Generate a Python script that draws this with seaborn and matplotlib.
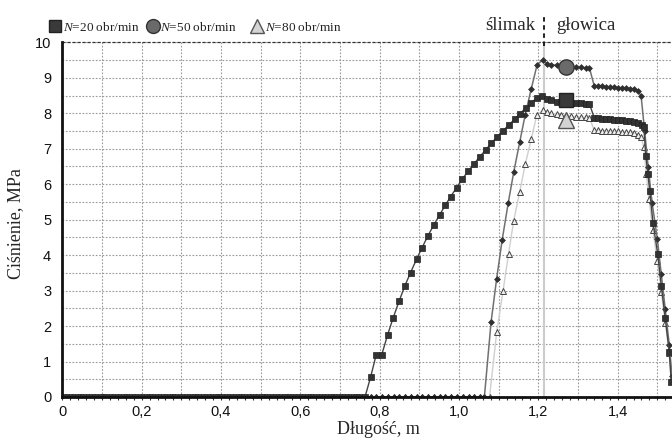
import numpy as np
import pandas as pd
import seaborn as sns
import matplotlib.pyplot as plt
from matplotlib.ticker import MultipleLocator, FuncFormatter

sns.set_style("white")
plt.rcParams['font.family'] = ['Liberation Sans', 'DejaVu Sans']
plt.rcParams['mathtext.fontset'] = 'custom'
plt.rcParams['mathtext.it'] = 'Liberation Serif:italic'
plt.rcParams['mathtext.rm'] = 'Liberation Serif'

# sampling positions along the line where pressure is still zero
base_x = [0.010, 0.024, 0.039, 0.053, 0.068, 0.082, 0.097, 0.111, 0.126, 0.140,
          0.155, 0.169, 0.184, 0.198, 0.213, 0.227, 0.242, 0.256, 0.271, 0.285,
          0.300, 0.314, 0.329, 0.343, 0.358, 0.372, 0.387, 0.401, 0.416, 0.430,
          0.445, 0.459, 0.474, 0.488, 0.503, 0.517, 0.532, 0.546, 0.561, 0.575,
          0.590, 0.604, 0.619, 0.633, 0.648, 0.662, 0.677, 0.691, 0.706, 0.720,
          0.735, 0.749, 0.763, 0.778, 0.792, 0.807, 0.821, 0.836, 0.850, 0.865,
          0.879, 0.894, 0.908, 0.923, 0.937, 0.952, 0.966, 0.981, 0.995, 1.010,
          1.024, 1.039, 1.053, 1.064]

# N=20 obr/min (after zero part)
x20 = [0.777, 0.791, 0.805, 0.820, 0.834, 0.849, 0.863, 0.878, 0.893, 0.907,
       0.921, 0.936, 0.951, 0.965, 0.979, 0.994, 1.008, 1.023, 1.037, 1.052,
       1.067, 1.081, 1.096, 1.111, 1.126, 1.140, 1.154, 1.168, 1.182, 1.197,
       1.209, 1.221, 1.233, 1.246, 1.258, 1.271, 1.283, 1.296, 1.308, 1.321,
       1.329, 1.341, 1.351, 1.361, 1.371, 1.381, 1.391, 1.401, 1.411, 1.421,
       1.431, 1.441, 1.451, 1.461, 1.466, 1.471, 1.476, 1.481, 1.489, 1.501,
       1.510, 1.520, 1.530, 1.535]
y20 = [0.55, 1.18, 1.18, 1.75, 2.23, 2.70, 3.12, 3.51, 3.88, 4.21,
       4.53, 4.84, 5.13, 5.40, 5.65, 5.90, 6.14, 6.36, 6.56, 6.77,
       6.96, 7.15, 7.33, 7.51, 7.67, 7.83, 7.99, 8.14, 8.30, 8.43,
       8.48, 8.40, 8.37, 8.33, 8.31, 8.30, 8.30, 8.29, 8.28, 8.27,
       8.26, 7.87, 7.86, 7.85, 7.84, 7.83, 7.82, 7.81, 7.80, 7.79,
       7.78, 7.76, 7.72, 7.66, 7.60, 6.80, 6.30, 5.80, 4.91, 4.03,
       3.13, 2.22, 1.28, 0.43]

# N=50 obr/min
x50 = [1.081, 1.095, 1.109, 1.124, 1.138, 1.153, 1.167, 1.182, 1.197, 1.211,
       1.221, 1.233, 1.246, 1.258, 1.271, 1.283, 1.296, 1.308, 1.321, 1.329,
       1.341, 1.351, 1.361, 1.371, 1.381, 1.391, 1.401, 1.411, 1.421, 1.431,
       1.441, 1.451, 1.459, 1.468, 1.477, 1.487, 1.500, 1.510, 1.520, 1.530,
       1.537]
y50 = [2.12, 3.34, 4.44, 5.46, 6.34, 7.18, 7.96, 8.68, 9.37, 9.50,
       9.40, 9.37, 9.35, 9.33, 9.32, 9.31, 9.30, 9.29, 9.28, 9.27,
       8.77, 8.76, 8.76, 8.75, 8.74, 8.73, 8.72, 8.71, 8.70, 8.69,
       8.67, 8.62, 8.50, 7.50, 6.48, 5.46, 4.46, 3.46, 2.47, 1.48,
       0.60]

# N=80 obr/min
x80 = [1.077, 1.095, 1.111, 1.125, 1.138, 1.153, 1.167, 1.182, 1.196, 1.211,
       1.221, 1.233, 1.246, 1.258, 1.271, 1.283, 1.296, 1.308, 1.321, 1.329,
       1.341, 1.351, 1.361, 1.371, 1.381, 1.391, 1.401, 1.411, 1.421, 1.431,
       1.441, 1.451, 1.459, 1.466, 1.472, 1.479, 1.489, 1.500, 1.510, 1.520,
       1.530, 1.536]
y80 = [0.00, 1.82, 2.99, 4.04, 4.97, 5.78, 6.56, 7.26, 7.94, 8.08,
       8.03, 8.00, 7.97, 7.95, 7.93, 7.91, 7.90, 7.89, 7.88, 7.87,
       7.52, 7.52, 7.51, 7.51, 7.50, 7.50, 7.49, 7.48, 7.47, 7.46,
       7.44, 7.40, 7.32, 7.05, 6.30, 5.57, 4.70, 3.83, 2.97, 2.10,
       1.25, 0.50]

boundary_x = 1.215   # ślimak / głowica
labels = ["$N$=20 obr/min", "$N$=50 obr/min", "$N$=80 obr/min"]

def full(xs, ys, x_end):
    zx = [v for v in base_x if v <= x_end]
    return pd.DataFrame({'x': zx + xs, 'y': [0.0] * len(zx) + ys})

d20 = full(x20, y20, 0.763)
d50 = full(x50, y50, 1.064)
d80 = full(x80, y80, 1.064)

fig = plt.figure(figsize=(6.72, 4.43), dpi=100)
ax = fig.add_axes([62.3 / 672, 1 - 397 / 443, (672 - 62.3) / 672, (397 - 42.3) / 443])

ax.axvline(boundary_x, color='#cccccc', lw=1.5, zorder=1)

sns.lineplot(data=d80, x='x', y='y', ax=ax, sort=False, estimator=None, color='#cfcfcf', lw=1,
             marker='^', markersize=4.5, markerfacecolor='#eeeeee', markeredgecolor='#444444',
             markeredgewidth=0.7, zorder=3)
sns.lineplot(data=d50, x='x', y='y', ax=ax, sort=False, estimator=None, color='#707070', lw=1.1,
             marker='D', markersize=3, markerfacecolor='#303030', markeredgecolor='#303030',
             markeredgewidth=0.5, zorder=4)
sns.lineplot(data=d20, x='x', y='y', ax=ax, sort=False, estimator=None, color='#444444', lw=1,
             marker='s', markersize=4, markerfacecolor='#333333', markeredgecolor='#222222',
             markeredgewidth=0.5, zorder=5)

# big markers on the curves
ax.plot([1.269], [8.37], marker='s', ms=9.5, mfc='#3a3a3a', mec='#222222', ls='none', zorder=6)
ax.plot([1.270], [9.31], marker='o', ms=11, mfc='#6a6a6a', mec='#333333', ls='none', zorder=6)
ax.plot([1.271], [7.80], marker='^', ms=12, mfc='#d4d4d4', mec='#555555', ls='none', zorder=6)

ax.set_xlim(0, 1.537)
ax.set_ylim(0, 10)

ax.xaxis.set_major_locator(MultipleLocator(0.1))
ax.xaxis.set_minor_locator(MultipleLocator(0.02))
ax.yaxis.set_major_locator(MultipleLocator(0.5))

def xfmt(v, pos):
    k = int(round(v * 10))
    if k == 0:
        return "0"
    if k % 2:
        return ""
    return f"{v:.1f}".replace('.', ',')

def yfmt(v, pos):
    if abs(v - round(v)) > 1e-6:
        return ""
    return f"{int(round(v))}"

ax.xaxis.set_major_formatter(FuncFormatter(xfmt))
ax.yaxis.set_major_formatter(FuncFormatter(yfmt))
ax.tick_params(axis='x', which='both', direction='out', length=2.5, width=0.8, color='#333333',
               pad=3, labelsize=10.5, bottom=True, labelcolor='#111111')
ax.tick_params(axis='y', length=0, pad=8, labelsize=10.5, labelcolor='#111111')

ax.grid(True, which='major', color='#999999', ls=(0, (1.5, 1.5)), lw=0.8)
ax.axhline(10, color='#333333', ls=(0, (2.5, 1.5)), lw=0.9, zorder=2, clip_on=False)

for s in ['top', 'right']:
    ax.spines[s].set_visible(False)
for s in ['left', 'bottom']:
    ax.spines[s].set_linewidth(2)
    ax.spines[s].set_color('#111111')
    ax.spines[s].set_zorder(7)

ax.set_xlabel("Długość, m", family='Liberation Serif', fontsize=13)
ax.set_ylabel("Ciśnienie, MPa", family='Liberation Serif', fontsize=13)
ax.xaxis.set_label_coords(0.519, -0.068)
ax.yaxis.set_label_coords(-0.062, 0.49)

# legend row above the plot
leg_y = 10.46
ax.plot([-0.018], [leg_y], marker='s', ms=8.5, mfc='#3a3a3a', mec='#222222', ls='none', clip_on=False)
ax.plot([0.229], [leg_y], marker='o', ms=10, mfc='#6a6a6a', mec='#333333', ls='none', clip_on=False)
ax.plot([0.491], [leg_y], marker='^', ms=10.5, mfc='#d4d4d4', mec='#555555', ls='none', clip_on=False)
for xt, lab in zip([0.002, 0.246, 0.511], labels):
    ax.text(xt, 10.33, lab, family='Liberation Serif', fontsize=9.5, va='baseline', ha='left',
            color='#222222')

ax.text(boundary_x - 0.023, 10.34, "ślimak", family='Liberation Serif', fontsize=13.5,
        va='baseline', ha='right')
ax.text(boundary_x + 0.03, 10.34, "głowica", family='Liberation Serif', fontsize=13.5,
        va='baseline', ha='left')
ax.plot([boundary_x, boundary_x], [9.9, 10.72], color='#111111', lw=1.3, ls=(0, (2.5, 2)),
        clip_on=False, zorder=8)

fig.savefig("out.png", dpi=100)
